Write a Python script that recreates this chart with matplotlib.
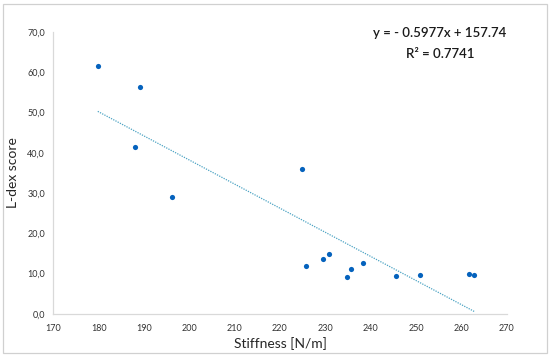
import matplotlib.pyplot as plt
from matplotlib.patches import Rectangle
from matplotlib.ticker import FuncFormatter

# data
stiffness = [179.8, 189.2, 188.0, 196.1, 224.9, 225.8, 229.4, 230.9,
             234.8, 235.7, 238.4, 245.7, 251.0, 261.8, 262.9]
ldex = [61.5, 56.4, 41.5, 29.1, 35.9, 11.9, 13.7, 14.8,
        9.1, 11.2, 12.7, 9.4, 9.7, 10.0, 9.7]
slope, intercept = -0.5977, 157.74
r2 = 0.7741

plt.rcParams['font.family'] = ['Lato', 'DejaVu Sans']

fig = plt.figure(figsize=(5.5, 3.58), dpi=100)
ax = fig.add_axes([0.097, 0.123, 0.824, 0.788])

# outer frame
fig.patches.append(Rectangle((0.006, 0.014), 0.988, 0.975, transform=fig.transFigure,
                             fill=False, edgecolor='#d0d0d0', linewidth=0.9))

# trendline
x0, x1 = min(stiffness), max(stiffness)
ax.plot([x0, x1], [slope * x0 + intercept, slope * x1 + intercept],
        linestyle=(0, (1, 1)), color='#4ba3c3', linewidth=0.9, zorder=2)

ax.scatter(stiffness, ldex, s=14, color='#0562bd', zorder=3, linewidths=0)

ax.set_xlim(170, 270)
ax.set_ylim(0, 70)
ax.set_xticks(range(170, 271, 10))
ax.set_yticks(range(0, 71, 10))
ax.yaxis.set_major_formatter(FuncFormatter(lambda v, p: f"{v:.1f}".replace('.', ',')))

for s in ['top', 'right']:
    ax.spines[s].set_visible(False)
for s in ['left', 'bottom']:
    ax.spines[s].set_color('#d9d9d9')
    ax.spines[s].set_linewidth(0.9)

ax.tick_params(length=0, labelsize=6.5, colors='#333333', pad=6)
ax.tick_params(axis='x', pad=7)

ax.set_xlabel('Stiffness [N/m]', fontsize=10, color='#262626', labelpad=3)
ax.set_ylabel('L-dex score', fontsize=10, color='#262626', labelpad=6)

fig.text(440 / 550, 1 - 33 / 358, f"y = - {abs(slope)}x + {intercept}",
         ha='center', va='center', fontsize=9.5, color='#1a1a1a', fontweight='semibold')
fig.text(440 / 550, 1 - 54.5 / 358, f"R\u00b2 = {r2}",
         ha='center', va='center', fontsize=9.5, color='#1a1a1a', fontweight='semibold')

fig.savefig('out.png', dpi=100)
